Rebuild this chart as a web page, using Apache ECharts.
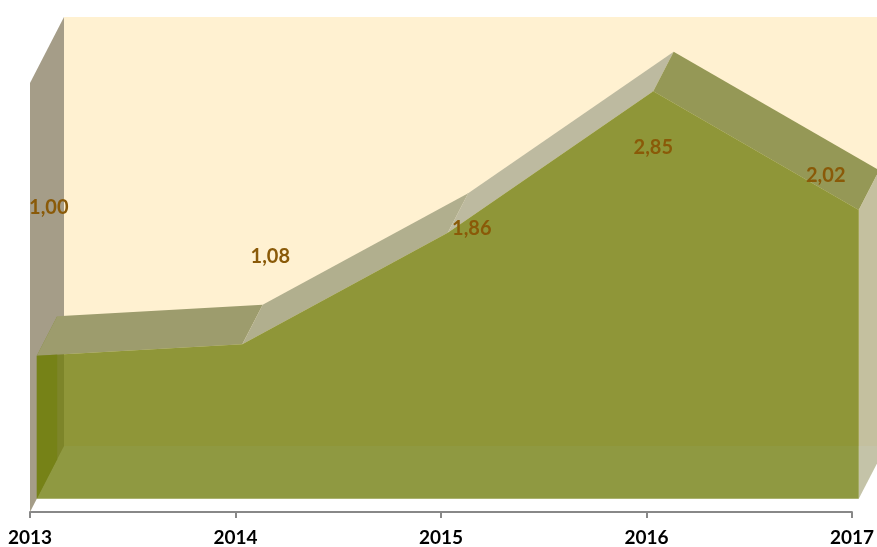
<!DOCTYPE html>
<html>
<head>
<meta charset="utf-8">
<script src="https://cdn.jsdelivr.net/npm/echarts@6/dist/echarts.min.js"></script>
<style>
  html, body { margin: 0; padding: 0; background: #fff; }
  #chart { width: 877px; height: 547px; }
</style>
</head>
<body>
<div id="chart"></div>
<script>
const years = ['2013', '2014', '2015', '2016', '2017']
const values = [1.00, 1.08, 1.86, 2.85, 2.02]
const valueLabels = ['1,00', '1,08', '1,86', '2,85', '2,02']

// fake 3d: depth vector of the whole box, area sits between front/back
const DEPTH = [34, -66]
const FRONT = 0.2
const BACK = 0.8
const topColors = ['#9d9c6d', '#b1af8e', '#bdbaa0', '#959856']
// excel puts the 3d labels oddly, nudge them by hand
const labelShift = [[12, -148], [28, -88], [24, -4], [0, 56], [-33, -34]]

const chart = echarts.init(document.getElementById('chart'), null, { renderer: 'canvas' })

function pt(api, i, v, d) {
  const c = api.coord([i, v])
  return [c[0] + DEPTH[0] * d, c[1] + DEPTH[1] * d]
}

function renderBox(params, api) {
  const last = years.length - 1
  const yMax = 3
  const children = []
  // back wall
  children.push({
    type: 'polygon',
    shape: { points: [pt(api, 0, 0, 1), pt(api, last, 0, 1), pt(api, last, yMax, 1), pt(api, 0, yMax, 1)] },
    style: { fill: '#fff1d1' }
  })
  // left wall
  children.push({
    type: 'polygon',
    shape: { points: [pt(api, 0, 0, 0), pt(api, 0, yMax, 0), pt(api, 0, yMax, 1), pt(api, 0, 0, 1)] },
    style: { fill: '#a59d88' }
  })
  return { type: 'group', children: children }
}

function renderArea(params, api) {
  const last = years.length - 1
  const children = []
  // left end
  children.push({
    type: 'polygon',
    shape: { points: [pt(api, 0, 0, FRONT), pt(api, 0, values[0], FRONT), pt(api, 0, values[0], BACK), pt(api, 0, 0, BACK)] },
    style: { fill: 'rgba(119,134,27,0.8)' }
  })
  // top faces
  for (let i = 0; i < last; i++) {
    children.push({
      type: 'polygon',
      shape: {
        points: [pt(api, i, values[i], FRONT), pt(api, i + 1, values[i + 1], FRONT),
          pt(api, i + 1, values[i + 1], BACK), pt(api, i, values[i], BACK)]
      },
      style: { fill: topColors[i] }
    })
  }
  // right end
  children.push({
    type: 'polygon',
    shape: { points: [pt(api, last, 0, FRONT), pt(api, last, values[last], FRONT), pt(api, last, values[last], BACK), pt(api, last, 0, BACK)] },
    style: { fill: 'rgba(181,180,146,0.8)' }
  })
  // front face, see-through like excel
  const front = values.map((v, i) => pt(api, i, v, FRONT))
  front.push(pt(api, last, 0, FRONT), pt(api, 0, 0, FRONT))
  children.push({
    type: 'polygon',
    shape: { points: front },
    style: { fill: 'rgba(115,128,17,0.8)' }
  })
  // labels
  values.forEach((v, i) => {
    const p = pt(api, i, v, FRONT)
    children.push({
      type: 'text',
      x: p[0] + labelShift[i][0],
      y: p[1] + labelShift[i][1],
      style: {
        text: valueLabels[i],
        fill: '#8a5a08',
        font: 'bold 20px Lato',
        align: 'center',
        verticalAlign: 'middle'
      }
    })
  })
  return { type: 'group', children: children }
}

chart.setOption({
  animation: false,
  grid: { left: 30, right: 22, top: 83, bottom: 35 },
  xAxis: {
    type: 'category',
    data: years,
    boundaryGap: false,
    axisLine: { lineStyle: { color: '#888', width: 2 } },
    axisTick: { length: 6, lineStyle: { color: '#888', width: 2 } },
    axisLabel: { color: '#000', fontFamily: 'Lato', fontWeight: 'bold', fontSize: 19, margin: 16, showMaxLabel: true }
  },
  yAxis: {
    type: 'value',
    min: 0,
    max: 3,
    interval: 1,
    show: false
  },
  series: [
    { type: 'custom', renderItem: renderBox, data: [[0]], z: 1, silent: true },
    { type: 'custom', renderItem: renderArea, data: [[0]], z: 2, silent: true }
  ]
})
</script>
</body>
</html>
